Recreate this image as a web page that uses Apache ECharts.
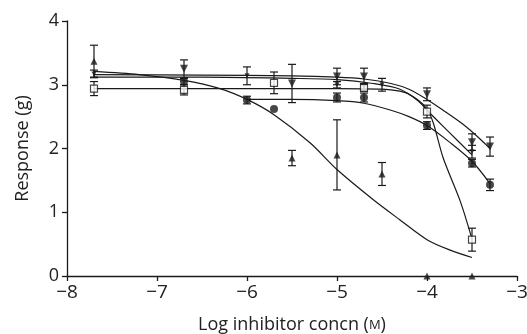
<!DOCTYPE html>
<html>
<head>
<meta charset="utf-8">
<script src="https://cdn.jsdelivr.net/npm/echarts@6/dist/echarts.min.js"></script>
<style>
html, body { margin: 0; padding: 0; background: #fff; }
#chart { width: 527px; height: 334px; }
</style>
</head>
<body>
<div id="chart"></div>
<script>
// axis ticks
var xTicks = [-8, -7, -6, -5, -4, -3];
var yTicks = [0, 1, 2, 3, 4];

// triangle up
var upX = [-7.7, -5.5, -5, -4.5, -4, -3.5];
var upY = [3.37, 1.85, 1.9, 1.6, 0, 0];
var upErr = [0.25, 0.12, 0.55, 0.18, 0, 0];
var upFit = [[-7.7, 3.21], [-7.2, 3.16], [-6.7, 3.07], [-6.3, 2.94], [-6.0, 2.77], [-5.7, 2.53],
  [-5.3, 2.09], [-5.0, 1.67], [-4.6, 1.2], [-4.3, 0.88], [-4.0, 0.57], [-3.75, 0.41], [-3.5, 0.29]];

// triangle down (large)
var downX = [-6.7, -5.5, -5, -4.7, -4, -3.5, -3.3];
var downY = [3.25, 3.02, 3.13, 3.13, 2.85, 2.1, 2.03];
var downErr = [0.14, 0.3, 0.13, 0.13, 0.1, 0.13, 0.15];
var downFit = [[-7.7, 3.16], [-6.5, 3.15], [-5.5, 3.14], [-5.0, 3.12], [-4.7, 3.09], [-4.4, 3.02],
  [-4.2, 2.93], [-4.0, 2.77], [-3.8, 2.58], [-3.6, 2.38], [-3.45, 2.2], [-3.3, 2.0]];

// small triangle down
var smallX = [-7.7, -6, -5, -4.7, -4.5, -3.5];
var smallY = [3.17, 3.14, 3.0, 2.97, 3.0, 1.95];
var smallErr = [0.06, 0.14, 0.05, 0.05, 0.1, 0.1];
var smallFit = [[-7.7, 3.12], [-6.5, 3.12], [-5.5, 3.1], [-5.0, 3.08], [-4.6, 3.02], [-4.3, 2.93],
  [-4.1, 2.75], [-4.0, 2.6], [-3.75, 2.25], [-3.5, 1.9]];

// open square
var sqX = [-7.7, -6.7, -5.7, -4.7, -4, -3.5];
var sqY = [2.94, 2.92, 3.03, 2.95, 2.58, 0.57];
var sqErr = [0.11, 0.08, 0.17, 0.05, 0.1, 0.18];
var sqFit = [[-7.7, 2.94], [-6.0, 2.94], [-5.0, 2.94], [-4.5, 2.93], [-4.25, 2.88], [-4.1, 2.76],
  [-4.0, 2.62], [-3.93, 2.4], [-3.82, 1.85], [-3.63, 1.17], [-3.5, 0.58]];

// filled circle
var dotX = [-6.7, -6, -5.7, -5, -4.7, -4, -3.5, -3.3];
var dotY = [3.05, 2.76, 2.62, 2.8, 2.8, 2.36, 1.77, 1.43];
var dotErr = [0.05, 0.06, 0, 0.07, 0.07, 0.06, 0.06, 0.09];
var dotFit = [[-6.0, 2.77], [-5.5, 2.77], [-5.0, 2.75], [-4.7, 2.71], [-4.4, 2.6], [-4.2, 2.5],
  [-4.0, 2.36], [-3.75, 2.1], [-3.5, 1.8], [-3.3, 1.45]];

var ink = "#1a1a1a";

function errorBars(params, api) {
  var x = api.value(0), y = api.value(1), e = api.value(2);
  if (!e) return;
  var top = api.coord([x, y + e]);
  var bot = api.coord([x, y - e]);
  var w = 4;
  var st = { stroke: ink, lineWidth: 1.2 };
  return {
    type: "group",
    children: [
      { type: "line", shape: { x1: top[0], y1: top[1], x2: bot[0], y2: bot[1] }, style: st },
      { type: "line", shape: { x1: top[0] - w, y1: top[1], x2: top[0] + w, y2: top[1] }, style: st },
      { type: "line", shape: { x1: bot[0] - w, y1: bot[1], x2: bot[0] + w, y2: bot[1] }, style: st },
    ],
  };
}

function zip(xs, ys) {
  return xs.map(function (x, i) { return [x, ys[i]]; });
}
function zip3(xs, ys, es) {
  return xs.map(function (x, i) { return [x, ys[i], es[i]]; });
}

var groups = [
  { fit: upFit, x: upX, y: upY, err: upErr, symbol: "triangle", size: 7, rot: 0, fill: ink },
  { fit: downFit, x: downX, y: downY, err: downErr, symbol: "triangle", size: 8, rot: 180, fill: ink },
  { fit: smallFit, x: smallX, y: smallY, err: smallErr, symbol: "triangle", size: 5, rot: 180, fill: ink },
  { fit: sqFit, x: sqX, y: sqY, err: sqErr, symbol: "rect", size: 7, rot: 0, fill: "#fff" },
  { fit: dotFit, x: dotX, y: dotY, err: dotErr, symbol: "circle", size: 8, rot: 0, fill: ink },
];

var series = [];
groups.forEach(function (g) {
  series.push({
    type: "line",
    data: g.fit,
    smooth: 0.3,
    showSymbol: false,
    lineStyle: { color: ink, width: 1.2 },
    z: 2,
    silent: true,
  });
  series.push({
    type: "custom",
    data: zip3(g.x, g.y, g.err),
    renderItem: errorBars,
    z: 3,
    silent: true,
  });
  series.push({
    type: "scatter",
    data: zip(g.x, g.y),
    symbol: g.symbol,
    symbolSize: g.size,
    symbolRotate: g.rot,
    itemStyle: { color: g.fill, borderColor: ink, borderWidth: g.symbol === "rect" ? 1.2 : 0 },
    z: 4,
    silent: true,
  });
});

function minus(v) {
  return v < 0 ? "\u2212" + Math.abs(v) : String(v);
}

var myChart = echarts.init(document.getElementById("chart"));
var option = {
  animation: false,
  textStyle: { fontFamily: "Open Sans" },
  grid: { left: 67, right: 10, top: 21, bottom: 58, containLabel: false, outerBoundsMode: "none" },
  xAxis: {
    type: "value",
    min: xTicks[0],
    max: xTicks[xTicks.length - 1],
    interval: 1,
    name: "Log inhibitor concn ({s|M})",
    nameLocation: "middle",
    nameGap: 40,
    nameTextStyle: {
      fontSize: 18, color: "#222", fontFamily: "Open Sans",
      rich: { s: { fontSize: 13, color: "#222", fontFamily: "Open Sans" } },
    },
    axisLine: { onZero: false, lineStyle: { color: ink, width: 1.3 } },
    axisTick: { length: 5, lineStyle: { color: ink, width: 1.3 } },
    axisLabel: { fontSize: 19, color: "#222", margin: 7, formatter: minus },
    splitLine: { show: false },
  },
  yAxis: {
    type: "value",
    min: yTicks[0],
    max: yTicks[yTicks.length - 1],
    interval: 1,
    name: "Response (g)",
    nameLocation: "middle",
    nameGap: 35,
    nameTextStyle: { fontSize: 18, color: "#222", fontFamily: "Open Sans" },
    axisLine: { show: true, lineStyle: { color: ink, width: 1.3 } },
    axisTick: { show: true, length: 5, lineStyle: { color: ink, width: 1.3 } },
    axisLabel: { fontSize: 18, color: "#222", margin: 8, formatter: minus },
    splitLine: { show: false },
  },
  series: series,
};
myChart.setOption(option);
</script>
</body>
</html>
